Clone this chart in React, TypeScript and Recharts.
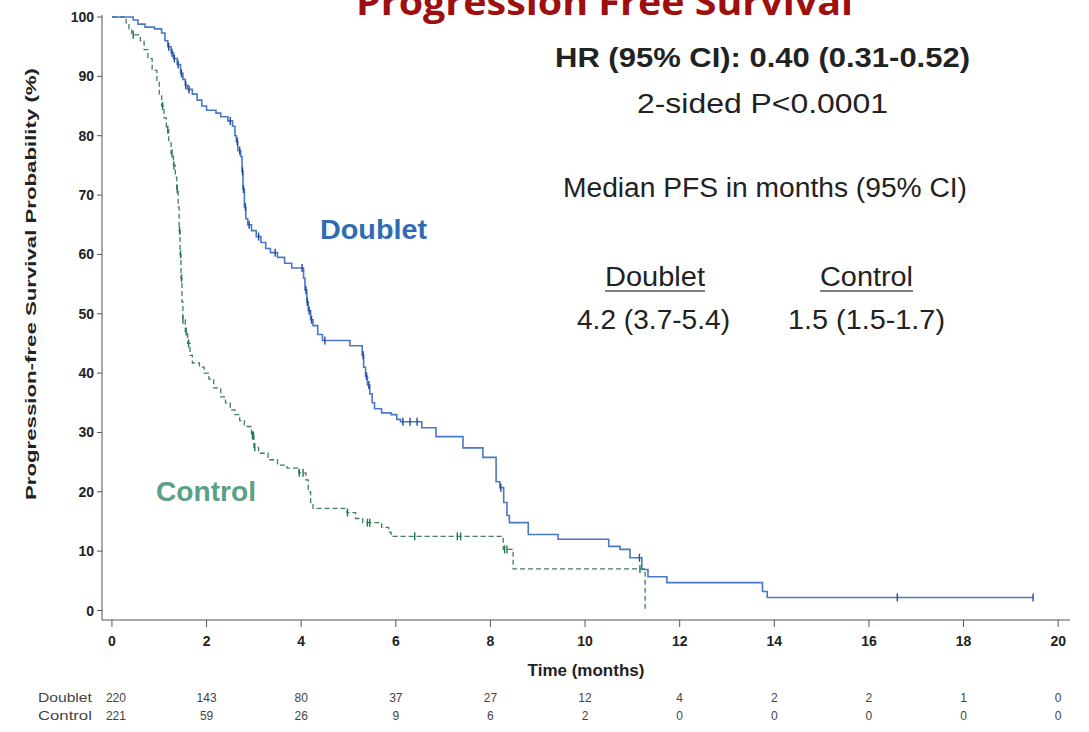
import React from "react";
import {
  ComposedChart,
  Line,
  Scatter,
  XAxis,
  YAxis,
} from "recharts";

// Kaplan-Meier steps: [months, % progression-free]
const doubletSteps: [number, number][] = [
  [0, 100], [0.45, 99.5], [0.55, 98.8], [0.7, 98.3], [0.9, 98], [1.05, 97.3],
  [1.12, 96], [1.18, 95], [1.25, 94], [1.3, 93], [1.38, 92], [1.45, 90.5],
  [1.5, 89.5], [1.55, 88.5], [1.6, 87.8], [1.7, 87], [1.8, 86], [1.9, 85],
  [2.0, 84.3], [2.2, 83.8], [2.3, 83.2], [2.45, 82.5], [2.55, 81.6], [2.6, 80],
  [2.63, 79], [2.66, 77.5], [2.72, 76.5], [2.75, 74], [2.77, 71], [2.8, 68],
  [2.83, 66], [2.87, 65], [2.95, 64], [3.05, 63], [3.15, 62], [3.25, 61],
  [3.35, 60.3], [3.5, 59.5], [3.65, 58.5], [3.8, 57.7], [4.05, 56], [4.08, 54],
  [4.12, 52], [4.15, 50.5], [4.2, 49], [4.25, 48], [4.35, 46.5], [4.45, 45.5],
  [5.03, 44.6], [5.29, 43], [5.32, 41], [5.36, 39.5], [5.4, 38], [5.45, 36.5],
  [5.5, 35], [5.55, 34], [5.7, 33.3], [5.9, 33], [6.02, 32.2], [6.1, 31.8],
  [6.55, 30.8], [6.85, 29.3], [7.42, 27.4], [7.84, 25.8], [8.12, 21.7],
  [8.2, 20.7], [8.28, 18.2], [8.35, 16], [8.4, 14.8], [8.8, 12.8], [9.43, 12],
  [10.5, 10.8], [10.74, 10.3], [10.95, 8.9], [11.2, 6.9], [11.33, 5.7],
  [11.73, 4.7], [13.75, 3.2], [13.85, 2.2], [19.47, 2.2],
];

const controlSteps: [number, number][] = [
  [0, 100], [0.3, 99], [0.36, 98], [0.42, 97], [0.6, 96], [0.68, 94.5],
  [0.76, 93], [0.85, 91], [0.95, 89], [1.0, 87], [1.05, 85], [1.1, 83],
  [1.15, 81], [1.2, 79], [1.25, 77], [1.3, 75], [1.34, 73], [1.37, 71],
  [1.4, 68], [1.42, 64], [1.44, 60], [1.46, 56], [1.48, 52], [1.5, 49],
  [1.55, 47], [1.6, 45], [1.65, 43], [1.7, 41.7], [1.85, 41], [1.95, 40],
  [2.05, 39], [2.15, 37.5], [2.3, 36], [2.4, 35], [2.5, 33.8], [2.6, 33],
  [2.7, 32], [2.8, 31], [2.95, 29.5], [3.0, 27.5], [3.1, 26.5], [3.3, 25.4],
  [3.5, 24.5], [3.7, 24], [3.95, 23.2], [4.1, 22], [4.15, 20], [4.2, 18],
  [4.25, 17.2], [4.97, 16.5], [5.15, 15.5], [5.3, 14.8], [5.7, 14],
  [5.85, 13.2], [5.9, 12.5], [8.27, 10.3], [8.48, 7], [11.27, 0],
];

// censored observations (tick marks)
const doubletCensored: [number, number][] = [
  [1.2, 95], [1.27, 94], [1.32, 93], [1.4, 92], [1.47, 90.5], [1.56, 88.5],
  [1.63, 87.8], [2.5, 82.5], [2.65, 79], [2.7, 77.5], [2.76, 74], [2.78, 71],
  [2.82, 68], [2.9, 65], [3.1, 63], [3.45, 60.3], [4.02, 57.7], [4.1, 54],
  [4.13, 52], [4.17, 50.5], [4.22, 49], [4.5, 45.5], [5.31, 43], [5.38, 39.5],
  [5.43, 38], [6.15, 31.8], [6.3, 31.8], [6.45, 31.8], [8.22, 20.7],
  [11.15, 8.9], [16.6, 2.2], [19.47, 2.2],
];

const controlCensored: [number, number][] = [
  [0.45, 97], [1.07, 85], [1.18, 81], [1.27, 77], [1.31, 75], [1.38, 71],
  [1.43, 64], [1.45, 60], [1.47, 56], [1.5, 49], [1.57, 47], [1.62, 45],
  [2.97, 29.5], [2.99, 29.5], [3.02, 27.5], [3.96, 23.2], [4.04, 23.2],
  [4.98, 16.5], [5.4, 14.8], [5.45, 14.8], [6.4, 12.5], [7.3, 12.5],
  [7.37, 12.5], [8.3, 10.3], [8.35, 10.3], [11.16, 7],
];

const timeTicks = [0, 2, 4, 6, 8, 10, 12, 14, 16, 18, 20];
const survTicks = [0, 10, 20, 30, 40, 50, 60, 70, 80, 90, 100];
const doubletAtRisk = [220, 143, 80, 37, 27, 12, 4, 2, 2, 1, 0];
const controlAtRisk = [221, 59, 26, 9, 6, 2, 0, 0, 0, 0, 0];

const DOUBLET = "#4a78c6";
const DOUBLET_DARK = "#23479a";
const CONTROL = "#3f7f5c";
const CONTROL_DARK = "#1f7a45";
const AXIS = "#555";
const FONT = "'Liberation Sans', Arial, sans-serif";
const NARROW = "'Liberation Sans Narrow', 'Liberation Sans', Arial, sans-serif";
const X_DOMAIN: [number, number] = [-0.21, 20.25];

const toPoints = (rows: [number, number][]) => rows.map(([t, s]) => ({ t, s }));
const riskAnchors = timeTicks.map((t) => ({ t, s: 50 }));

const censorMark = (color: string) => (props: any) => {
  const { cx, cy } = props;
  if (cx == null || cy == null) return <g />;
  return (
    <line x1={cx} y1={cy - 4} x2={cx} y2={cy + 4} stroke={color} strokeWidth={1.4} />
  );
};

const XTick = (props: any) => {
  const { x, y, payload } = props;
  return (
    <text x={x} y={y + 10} textAnchor="middle" fontSize={14} fontWeight={700} fontFamily={FONT} fill="#222">
      {payload.value}
    </text>
  );
};

const YTick = (props: any) => {
  const { x, y, payload } = props;
  return (
    <text x={x} y={y + 5} textAnchor="end" fontSize={14} fontWeight={700} fontFamily={FONT} fill="#222">
      {payload.value}
    </text>
  );
};

const RiskTick = (name: string, counts: number[]) => (props: any) => {
  const { x, y, payload, index } = props;
  const i = timeTicks.indexOf(payload.value);
  return (
    <g>
      {index === 0 && (
        <text x={x - 74} y={y + 12} fontSize={12} fontFamily={FONT} fill="#444"
          textLength={54} lengthAdjust="spacingAndGlyphs">
          {name}
        </text>
      )}
      <text x={x + (index === 0 ? 4 : 0)} y={y + 12} textAnchor="middle" fontSize={12} fontFamily={FONT} fill="#444">
        {i >= 0 ? counts[i] : ""}
      </text>
    </g>
  );
};

const Nothing = () => <g />;

export default function App() {
  return (
    <div style={{ position: "absolute", left: 0, top: 0, width: 1089, height: 732, background: "#fff" }}>
      <ComposedChart
        width={1089}
        height={732}
        margin={{ top: 15, right: 19, bottom: 6, left: 0 }}
      >
        <XAxis
          dataKey="t"
          type="number"
          domain={X_DOMAIN}
          allowDataOverflow
          ticks={timeTicks}
          height={70}
          tickSize={7}
          tickMargin={9}
          stroke={AXIS}
          tick={XTick}
          label={{
            value: "Time (months)",
            position: "insideBottom",
            offset: 14,
            style: { fontSize: 17, fontWeight: 700, fill: "#222", fontFamily: FONT },
          }}
        />
        <XAxis
          xAxisId="risk1"
          dataKey="t"
          type="number"
          domain={X_DOMAIN}
          allowDataOverflow
          ticks={timeTicks}
          height={18}
          axisLine={false}
          tickLine={false}
          tickSize={0}
          tickMargin={0}
          tick={RiskTick("Doublet", doubletAtRisk)}
        />
        <XAxis
          xAxisId="risk2"
          dataKey="t"
          type="number"
          domain={X_DOMAIN}
          allowDataOverflow
          ticks={timeTicks}
          height={18}
          axisLine={false}
          tickLine={false}
          tickSize={0}
          tickMargin={0}
          tick={RiskTick("Control", controlAtRisk)}
        />
        <YAxis
          type="number"
          domain={[-1.6, 100.34]}
          allowDataOverflow
          ticks={survTicks}
          width={102}
          tickSize={5}
          tickMargin={3}
          stroke={AXIS}
          tick={YTick}
          label={{
            content: () => (
              <text
                x={0}
                y={0}
                transform="translate(36 284) rotate(-90)"
                textAnchor="middle"
                fontSize={15}
                fontWeight={700}
                fontFamily={FONT}
                fill="#222"
                textLength={432}
                lengthAdjust="spacingAndGlyphs"
              >
                Progression-free Survival Probability (%)
              </text>
            ),
          }}
        />
        {/* invisible anchors so the number-at-risk rows get drawn */}
        <Scatter xAxisId="risk1" data={riskAnchors} dataKey="s" shape={Nothing} isAnimationActive={false} />
        <Scatter xAxisId="risk2" data={riskAnchors} dataKey="s" shape={Nothing} isAnimationActive={false} />
        <Line
          data={toPoints(controlSteps)}
          dataKey="s"
          type="stepAfter"
          stroke={CONTROL}
          strokeWidth={1.3}
          strokeDasharray="5 3"
          dot={false}
          activeDot={false}
          isAnimationActive={false}
        />
        <Line
          data={toPoints(doubletSteps)}
          dataKey="s"
          type="stepAfter"
          stroke={DOUBLET}
          strokeWidth={1.6}
          dot={false}
          activeDot={false}
          isAnimationActive={false}
        />
        <Scatter
          data={toPoints(controlCensored)}
          dataKey="s"
          shape={censorMark(CONTROL_DARK)}
          isAnimationActive={false}
        />
        <Scatter
          data={toPoints(doubletCensored)}
          dataKey="s"
          shape={censorMark(DOUBLET_DARK)}
          isAnimationActive={false}
        />
      </ComposedChart>

      <svg
        width={1089}
        height={732}
        style={{ position: "absolute", left: 0, top: 0, pointerEvents: "none" }}
      >
        <text x={356} y={15} fontSize={36} fontWeight={700} fill="#9e1010"
          fontFamily="'Open Sans', 'Noto Sans', sans-serif" textLength={497} lengthAdjust="spacingAndGlyphs">
          Progression Free Survival
        </text>
        <text x={555} y={67} fontSize={27} fontWeight={700} fill="#222" fontFamily={NARROW}
          textLength={415} lengthAdjust="spacingAndGlyphs">
          HR (95% CI): 0.40 (0.31-0.52)
        </text>
        <text x={637} y={113} fontSize={27} fill="#222" fontFamily={NARROW}
          textLength={251} lengthAdjust="spacingAndGlyphs">
          2-sided  P&lt;0.0001
        </text>
        <text x={563} y={197} fontSize={27} fill="#222" fontFamily={NARROW}
          textLength={404} lengthAdjust="spacingAndGlyphs">
          Median PFS in months (95% CI)
        </text>
        <text x={605} y={286} fontSize={27} fill="#222" fontFamily={NARROW}
          textLength={100} lengthAdjust="spacingAndGlyphs">
          Doublet
        </text>
        <line x1={605} y1={291} x2={705} y2={291} stroke="#555" strokeWidth={1.5} />
        <text x={820} y={286} fontSize={27} fill="#222" fontFamily={NARROW}
          textLength={93} lengthAdjust="spacingAndGlyphs">
          Control
        </text>
        <line x1={820} y1={291} x2={913} y2={291} stroke="#555" strokeWidth={1.5} />
        <text x={577} y={329} fontSize={27} fill="#222" fontFamily={NARROW}
          textLength={153} lengthAdjust="spacingAndGlyphs">
          4.2 (3.7-5.4)
        </text>
        <text x={788} y={329} fontSize={27} fill="#222" fontFamily={NARROW}
          textLength={157} lengthAdjust="spacingAndGlyphs">
          1.5 (1.5-1.7)
        </text>
        <text x={320} y={239} fontSize={27} fontWeight={700} fill="#2f6cb3" fontFamily={FONT}
          textLength={107} lengthAdjust="spacingAndGlyphs">
          Doublet
        </text>
        <text x={156} y={501} fontSize={27} fontWeight={700} fill="#5aa083" fontFamily={FONT}
          textLength={100} lengthAdjust="spacingAndGlyphs">
          Control
        </text>
      </svg>
    </div>
  );
}
